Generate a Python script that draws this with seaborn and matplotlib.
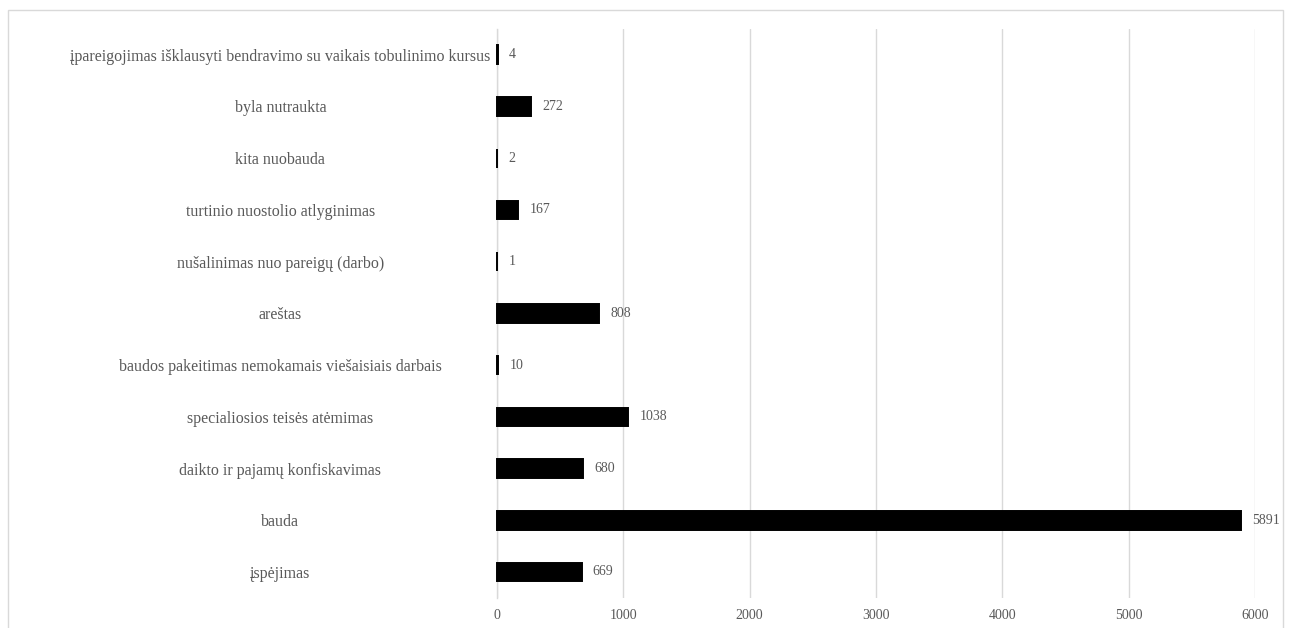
import matplotlib
matplotlib.use("Agg")
import matplotlib.pyplot as plt
import seaborn as sns
import pandas as pd
from matplotlib.patches import Rectangle

categories = [
    "įpareigojimas išklausyti bendravimo su vaikais tobulinimo kursus",
    "byla nutraukta",
    "kita nuobauda",
    "turtinio nuostolio atlyginimas",
    "nušalinimas nuo pareigų (darbo)",
    "areštas",
    "baudos pakeitimas nemokamais viešaisiais darbais",
    "specialiosios teisės atėmimas",
    "daikto ir pajamų konfiskavimas",
    "bauda",
    "įspėjimas",
]
counts = [4, 272, 2, 167, 1, 808, 10, 1038, 680, 5891, 669]
xticks = [0, 1000, 2000, 3000, 4000, 5000, 6000]

df = pd.DataFrame({"category": categories, "count": counts})

sns.set_style("white")
plt.rcParams["font.family"] = ["Liberation Serif", "DejaVu Serif"]
grey_text = "#595959"
grid_col = "#d9d9d9"

fig = plt.figure(figsize=(12.91, 6.28), dpi=100)
ax = fig.add_axes([0.385, 0.048, 0.587, 0.906])

# thin outline so that the tiny values (1, 2, 4, 10) still show as a stroke
sns.barplot(data=df, x="count", y="category", order=categories,
            color="black", width=0.36, saturation=1,
            edgecolor="black", linewidth=1.4, ax=ax)
for bar in ax.patches:
    bar.set_zorder(3)
    bar.set_clip_on(False)

ax.set_xlim(0, 6000)
ax.set_ylim(len(categories) - 0.5, -0.5)
ax.set_xticks(xticks)
ax.set_xticklabels([str(t) for t in xticks])
ax.xaxis.grid(True, color=grid_col, linewidth=1)
ax.set_axisbelow(True)
ax.set_xlabel("")
ax.set_ylabel("")

for side in ["top", "right", "bottom"]:
    ax.spines[side].set_visible(False)
ax.spines["left"].set_color(grid_col)
ax.spines["left"].set_linewidth(1)
ax.spines["left"].set_zorder(0.6)

ax.tick_params(axis="x", length=0, pad=8, labelsize=10, labelcolor=grey_text)
ax.tick_params(axis="y", length=0, pad=156, labelsize=11.5, labelcolor=grey_text)
for lab in ax.get_yticklabels():
    lab.set_horizontalalignment("center")

for cont in ax.containers:
    ax.bar_label(cont, padding=8, fontsize=10, color=grey_text)

fig.patches.append(Rectangle((8 / 1291, -0.02), 1275 / 1291, 1.0 - 10 / 628 + 0.02,
                             transform=fig.transFigure, fill=False,
                             edgecolor=grid_col, linewidth=1))

fig.savefig("out.png", dpi=100)
